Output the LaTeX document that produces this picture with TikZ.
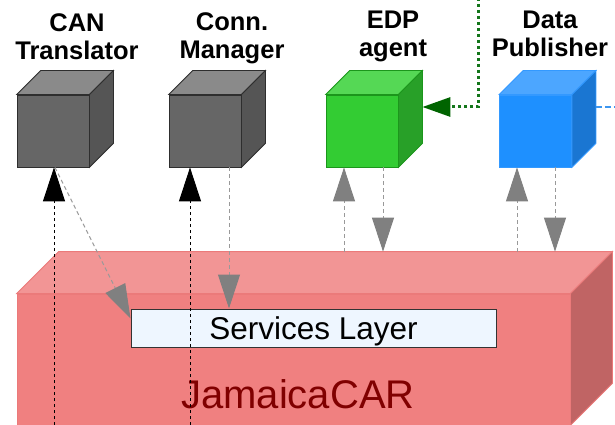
\documentclass[tikz,border=0pt]{standalone}
\usepackage{fontspec}
\setmainfont{Liberation Sans}
\usetikzlibrary{arrows.meta,calc}
\definecolor{redfront}{HTML}{F08080}
\definecolor{redtop}{HTML}{F29595}
\definecolor{redside}{HTML}{C06464}
\definecolor{redborder}{HTML}{EB7A7A}
\definecolor{grayfront}{HTML}{666666}
\definecolor{graytop}{HTML}{8A8A8A}
\definecolor{grayside}{HTML}{555555}
\definecolor{grayborder}{HTML}{2E2E2E}
\definecolor{greenfront}{HTML}{33CC33}
\definecolor{greentop}{HTML}{55D855}
\definecolor{greenside}{HTML}{28A028}
\definecolor{greenborder}{HTML}{1C961C}
\definecolor{bluefront}{HTML}{1E90FF}
\definecolor{bluetop}{HTML}{4CA6FF}
\definecolor{blueside}{HTML}{1A76D2}
\definecolor{blueborder}{HTML}{3399FF}
\definecolor{svcfill}{HTML}{EEF6FF}
\definecolor{svcborder}{HTML}{333333}
\definecolor{cartext}{HTML}{800000}
\definecolor{headgray}{HTML}{808080}
\definecolor{linegray}{HTML}{999999}
\definecolor{dkgreen}{HTML}{006400}
\definecolor{dotgreen}{HTML}{13761A}
\definecolor{dashblue}{HTML}{3C96F0}
\newcommand\cubefaces[5]{%
  \filldraw[fill=#2,draw=#4,line width=0.8pt] (#1.north west) -- ++(#5,-#5) -- ($(#1.north east)+(#5,-#5)$) -- (#1.north east) -- cycle;
  \filldraw[fill=#3,draw=#4,line width=0.8pt] (#1.north east) -- ++(#5,-#5) -- ($(#1.south east)+(#5,-#5)$) -- (#1.south east) -- cycle;}
\tikzset{
  cubefront/.style={draw, line width=0.8pt, minimum width=72pt, minimum height=72pt, inner sep=0pt},
  lbl/.style={font=\bfseries\fontsize{25.5}{28}\selectfont, align=center, inner sep=0pt, anchor=base},
  blackarrow/.style={draw=black, line width=1pt, dash pattern=on 3pt off 3pt, -{Triangle[width=22pt,length=34pt,color=black]}},
  grayarrow/.style={draw=linegray, line width=1pt, dash pattern=on 4pt off 3pt, -{Triangle[width=22pt,length=34pt,color=headgray]}},
  greenarrow/.style={draw=dotgreen, line width=3pt, dash pattern=on 3pt off 3pt, -{Triangle[width=19pt,length=28pt,color=dkgreen]}},
  blueline/.style={draw=dashblue, line width=2pt, dash pattern=on 6pt off 3pt},
}
\begin{document}
\begin{tikzpicture}[x=1pt,y=-1pt]
\useasboundingbox[fill=white] (0,0) rectangle (615,425);
% JamaicaCAR block
\node[draw=redborder, fill=redfront, line width=0.8pt, minimum width=553pt, minimum height=131pt, inner sep=0pt] (car) at (293.5,359.5) {};
\filldraw[fill=redtop, draw=redborder, line width=0.8pt] (car.north west) -- ++(42,-42) -- ($(car.north east)+(42,-42)$) -- (car.north east) -- cycle;
\filldraw[fill=redside, draw=redborder, line width=0.8pt] (car.north east) -- ++(42,-42) -- ($(car.south east)+(42,-42)$) -- (car.south east) -- cycle;
\node[font=\fontsize{40}{44}\selectfont, text=cartext, anchor=base, inner sep=0pt] (cartxt) at (298,408) {JamaicaCAR};
% Services layer
\node[draw=svcborder, fill=svcfill, line width=1pt, minimum width=365pt, minimum height=38pt, inner sep=0pt, text height=30pt, text depth=8pt, font=\fontsize{31.5}{34}\selectfont] (svc) at (313.5,328) {Services Layer};
% cubes
\node[cubefront, fill=grayfront, draw=grayborder] (can) at (53,131) {};
\cubefaces{can}{graytop}{grayside}{grayborder}{24}
\node[cubefront, fill=grayfront, draw=grayborder] (conn) at (205,131) {};
\cubefaces{conn}{graytop}{grayside}{grayborder}{24}
\node[cubefront, fill=greenfront, draw=greenborder] (edp) at (362,131) {};
\cubefaces{edp}{greentop}{greenside}{greenborder}{24}
\node[cubefront, fill=bluefront, draw=blueborder] (pub) at (535.5,131) {};
\cubefaces{pub}{bluetop}{blueside}{blueborder}{24}
% labels (anchor base = last line baseline)
\node[lbl] (lcan) at (77,60) {CAN\\Translator};
\node[lbl] (lconn) at (232,59) {Conn.\\Manager};
\node[lbl] (ledp) at (393,57) {EDP\\agent};
\node[lbl] (lpub) at (550,57) {Data\\Publisher};
% coordinates
\coordinate (b1) at (54,425);
\coordinate (b1t) at (b1 |- can.south);
\coordinate (b2) at (190,425);
\coordinate (b2t) at (b2 |- conn.south);
\coordinate (redback) at ($(car.north west)+(42,-42)$);
\coordinate (d1) at ($(can.south)+(2,0)$);
\coordinate (d1t) at ($(svc.north west)+(0,10)$);
\coordinate (d2) at ($(conn.south)+(24,0)$);
\coordinate (d2t) at (d2 |- svc.north);
\coordinate (e1) at ($(edp.south)+(-18,0)$);
\coordinate (e1b) at (e1 |- redback);
\coordinate (e2) at ($(edp.south)+(21,0)$);
\coordinate (e2b) at (e2 |- redback);
\coordinate (p1) at ($(pub.south)+(-18.5,0)$);
\coordinate (p1b) at (p1 |- redback);
\coordinate (p2) at ($(pub.south)+(19.5,0)$);
\coordinate (p2b) at (p2 |- redback);
\coordinate (g0) at (478,-2);
\coordinate (gtip) at ($(edp.east)+(24,-24)$);
\coordinate (gc) at (g0 |- gtip);
\coordinate (bstart) at ($(pub.east)+(24,-24)$);
\coordinate (bend) at (616,107);
% connectors
\draw[blackarrow] (b1) -- (b1t);
\draw[blackarrow] (b2) -- (b2t);
\draw[grayarrow] (d1) -- (d1t);
\draw[grayarrow] (d2) -- (d2t);
\draw[grayarrow] (e1b) -- (e1);
\draw[grayarrow] (e2) -- (e2b);
\draw[grayarrow] (p1b) -- (p1);
\draw[grayarrow] (p2) -- (p2b);
\draw[greenarrow] (g0) -- (gc) -- (gtip);
\draw[blueline] (bstart) -- (bend);
\end{tikzpicture}
\end{document}
